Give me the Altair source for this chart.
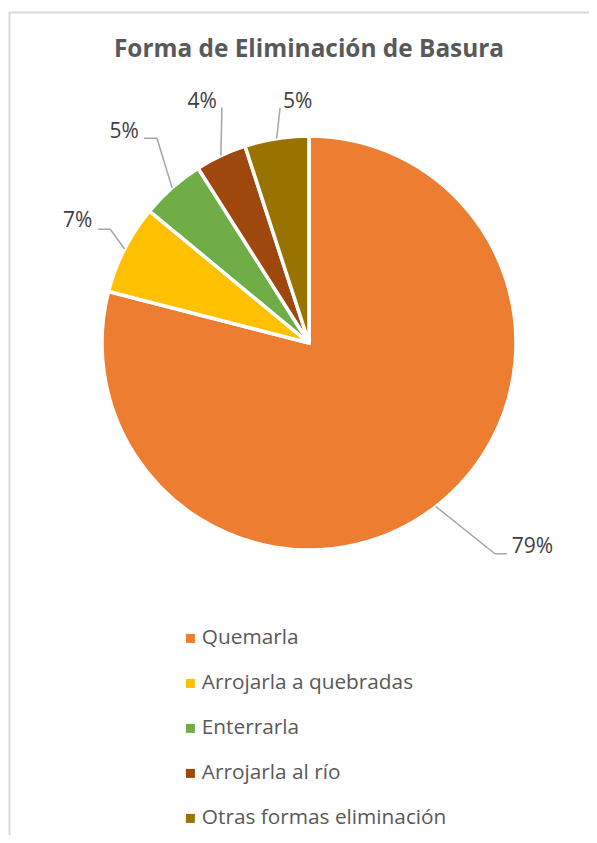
import altair as alt
import pandas as pd

# ---- data ----
categories = ["Quemarla", "Arrojarla a quebradas", "Enterrarla", "Arrojarla al río", "Otras formas eliminación"]
values = [79, 7, 5, 4, 5]
labels = ["79%", "7%", "5%", "4%", "5%"]
colors = ["#ED7D31", "#FFC000", "#70AD47", "#9E480E", "#997300"]

# ---- label layout (annotation styling, not data) ----
leader_len = [74, 22, 48, 44, 30]          # leader extension beyond the pie edge (px)
leader_turn = [-3.6, 2.8, 4.8, 4.9, 2.0]   # angular shift of the leader elbow (deg)
seg_len = [12, 12, 13, 0, 0]               # short horizontal part of the leader
label_gap = [5, 6, 5, 5, 3]
label_side = ["right", "left", "left", "left", "right"]
label_dy = [-7, -8, -6, -5.5, -5.5]

W, H = 581, 827
CX, CY, R = 301, 335, 207
FONT = "Open Sans"

df = pd.DataFrame({
    "idx": list(range(len(categories))),
    "cat": categories,
    "value": values,
    "label": labels,
    "ext": leader_len,
    "turn": leader_turn,
    "seg": seg_len,
    "gap": label_gap,
    "side": label_side,
    "ldy": label_dy,
})

base = alt.Chart(df)

pie = base.mark_arc(outerRadius=R, stroke="white", strokeWidth=3.5).encode(
    theta=alt.Theta("value:Q", stack=True),
    color=alt.Color(
        "cat:N",
        scale=alt.Scale(domain=categories, range=colors),
        sort=categories,
        legend=alt.Legend(
            title=None, orient="none", legendX=172, legendY=620,
            symbolType="square", symbolSize=81, symbolStrokeWidth=0,
            labelFont=FONT, labelFontSize=20.8, labelColor="#595959", labelLimit=0,
            rowPadding=23, labelOffset=1, direction="vertical",
        ),
    ),
    order=alt.Order("idx:Q"),
    x=alt.value(CX), y=alt.value(CY),
)

geo = base.transform_window(
    cum="sum(value)", sort=[alt.SortField("idx")], frame=[None, 0]
).transform_joinaggregate(
    total="sum(value)"
).transform_calculate(
    mid="(datum.cum - datum.value/2) / datum.total * 2 * PI",
    dir="datum.side == 'left' ? -1 : 1",
).transform_calculate(
    ela="datum.mid + datum.turn * PI / 180",
    x0=f"{CX} + {R} * sin(datum.mid)",
    y0=f"{CY} - {R} * cos(datum.mid)",
).transform_calculate(
    x1=f"{CX} + ({R} + datum.ext) * sin(datum.ela)",
    y1=f"{CY} - ({R} + datum.ext) * cos(datum.ela)",
).transform_calculate(
    x2="datum.x1 + datum.dir * datum.seg",
    lx="datum.x1 + datum.dir * (datum.seg + datum.gap)",
    ly="datum.y1 + datum.ldy",
)

lead1 = geo.mark_rule(color="#A6A6A6", strokeWidth=1.5).encode(
    x=alt.X("x0:Q", scale=None), y=alt.Y("y0:Q", scale=None),
    x2="x1:Q", y2="y1:Q",
)
lead2 = geo.mark_rule(color="#A6A6A6", strokeWidth=1.5).encode(
    x=alt.X("x1:Q", scale=None), y=alt.Y("y1:Q", scale=None),
    x2="x2:Q", y2="y1:Q",
)
txt_left = geo.transform_filter("datum.side == 'left'").mark_text(
    align="right", baseline="middle", font=FONT, fontSize=21, color="#404040"
).encode(x=alt.X("lx:Q", scale=None), y=alt.Y("ly:Q", scale=None), text="label:N")
txt_right = geo.transform_filter("datum.side == 'right'").mark_text(
    align="left", baseline="middle", font=FONT, fontSize=21, color="#404040"
).encode(x=alt.X("lx:Q", scale=None), y=alt.Y("ly:Q", scale=None), text="label:N")

one = alt.Chart(alt.Data(values=[{"t": "Forma de Eliminación de Basura"}]))
title = one.mark_text(
    font=FONT, fontSize=24.4, fontWeight="bold", color="#595959", align="center", baseline="middle"
).encode(x=alt.value(CX), y=alt.value(42), text="t:N")
border_left = one.mark_rule(color="#D9D9D9", strokeWidth=2).encode(
    x=alt.value(1.5), y=alt.value(4), y2=alt.value(H)
)
border_top = one.mark_rule(color="#D9D9D9", strokeWidth=2).encode(
    x=alt.value(1.5), x2=alt.value(W), y=alt.value(4.5)
)

chart = alt.layer(
    border_left, border_top, title, pie, lead1, lead2, txt_left, txt_right
).properties(
    width=W, height=H, autosize=alt.AutoSizeParams(type="none"), padding=0
).configure_view(stroke=None)

chart.save("out.html", embed_options={"renderer": "svg", "actions": False})
